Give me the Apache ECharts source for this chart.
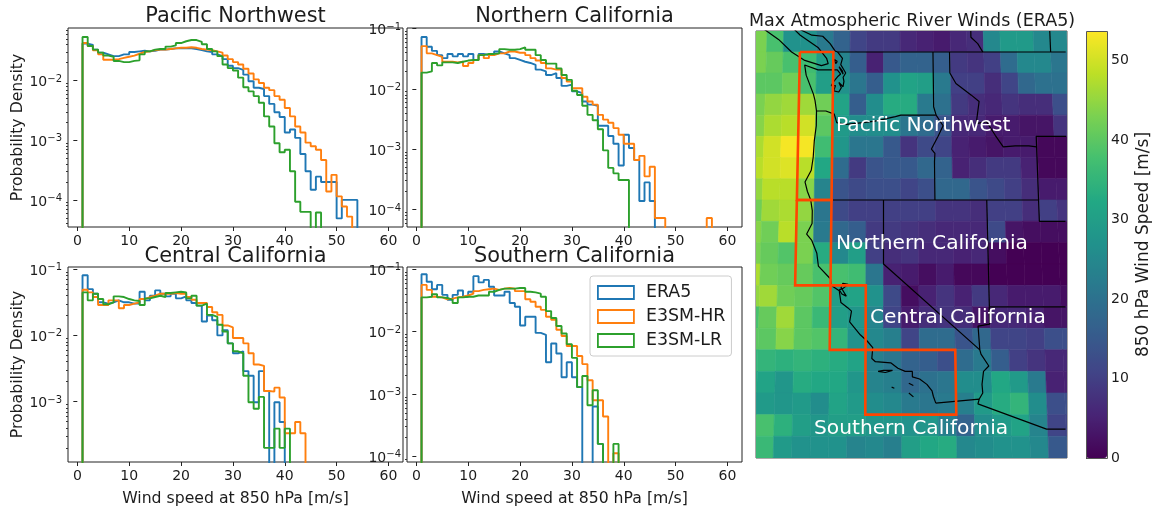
<!DOCTYPE html>
<html><head><meta charset="utf-8"><style>html,body{margin:0;padding:0;background:#fff}#c{width:1153px;height:508px}</style>
<script src="https://cdn.jsdelivr.net/npm/echarts@6/dist/echarts.min.js"></script></head><body><div id="c"></div><script>
const FONT='DejaVu Sans';
const seriesNames=['ERA5','E3SM-HR','E3SM-LR'];
const seriesColors=['#1f77b4','#ff7f0e','#2ca02c'];
const xTicks=[0,10,20,30,40,50,60];
const regionNames=['Pacific Northwest','Northern California','Central California','Southern California'];
// log10(probability density) per 1 m/s bin, first bin starts at 1 m/s; null = empty bin
const pnwEra5=[-1.38,-1.40,-1.48,-1.53,-1.56,-1.59,-1.59,-1.56,-1.56,-1.52,-1.51,-1.50,-1.51,-1.50,-1.48,-1.48,-1.47,-1.46,-1.46,-1.46,-1.46,-1.47,-1.49,-1.51,-1.52,-1.56,-1.59,-1.64,-1.75,-1.79,-1.82,-1.90,-2.01,-2.12,-2.14,-2.26,-2.39,-2.53,-2.61,-2.87,-2.82,-2.96,-3.23,-3.52,-3.83,-3.61,-3.70,-3.70,-3.70,-4.31,-4.0,-4.0,-4.0];
const pnwHr=[-1.37,-1.42,-1.49,-1.56,-1.65,-1.65,-1.64,-1.62,-1.60,-1.58,-1.55,-1.52,-1.51,-1.49,-1.48,-1.48,-1.47,-1.46,-1.45,-1.45,-1.44,-1.45,-1.47,-1.48,-1.49,-1.51,-1.53,-1.58,-1.64,-1.69,-1.73,-1.80,-1.88,-1.98,-2.04,-2.12,-2.16,-2.26,-2.32,-2.46,-2.60,-2.77,-2.87,-3.04,-3.10,-3.16,-3.33,-3.86,-3.58,-3.94,-4.11,-4.28];
const pnwLr=[-1.27,-1.42,-1.48,-1.53,-1.58,-1.60,-1.67,-1.69,-1.69,-1.67,-1.66,-1.56,-1.51,-1.48,-1.47,-1.47,-1.43,-1.41,-1.37,-1.34,-1.32,-1.32,-1.35,-1.39,-1.47,-1.51,-1.59,-1.73,-1.79,-1.83,-1.95,-2.11,-2.18,-2.26,-2.37,-2.60,-2.77,-3.05,-3.20,-3.16,-3.52,-4.03,-4.2,-4.2,null,-4.21];
const norEra5=[-1.14,-1.30,-1.37,-1.44,-1.49,-1.42,-1.46,-1.42,-1.46,-1.42,-1.52,-1.42,-1.44,-1.42,-1.38,-1.41,-1.44,-1.49,-1.52,-1.55,-1.57,-1.60,-1.68,-1.71,-1.77,-1.74,-1.82,-1.95,-1.93,-2.04,-2.07,-2.21,-2.26,-2.28,-2.61,-2.61,-2.78,-2.91,-3.27,-2.76,-2.98,-3.18,-3.86,-3.55,-3.86];
const norHr=[-1.29,-1.41,-1.44,-1.47,-1.55,-1.55,-1.56,-1.55,-1.62,-1.57,-1.52,-1.44,-1.49,-1.44,-1.41,-1.41,-1.38,-1.38,-1.40,-1.40,-1.44,-1.49,-1.53,-1.57,-1.66,-1.68,-1.68,-1.82,-1.88,-1.99,-1.99,-2.13,-2.21,-2.26,-2.43,-2.51,-2.56,-2.65,-2.76,-2.91,-2.91,-3.18,-3.11,-3.45,-3.29,-4.14,-4.14,null,null,null,null,null,null,null,null,-4.14];
const norLr=[-1.73,-1.71,-1.57,-1.61,-1.56,-1.56,-1.57,-1.55,-1.53,-1.52,-1.52,-1.44,-1.42,-1.42,-1.41,-1.34,-1.35,-1.35,-1.34,-1.31,-1.35,-1.35,-1.44,-1.52,-1.58,-1.58,-1.66,-1.77,-1.85,-2.03,-2.10,-2.28,-2.43,-2.52,-2.67,-3.02,-3.31,-3.40,-3.51,-3.51];
const cenEra5=[-1.09,-1.30,-1.37,-1.50,-1.52,-1.50,-1.47,-1.50,-1.50,-1.52,-1.52,-1.34,-1.47,-1.40,-1.32,-1.37,-1.41,-1.37,-1.44,-1.41,-1.47,-1.51,-1.55,-1.79,-1.70,-1.77,-2.0,-1.92,-2.12,-2.27,-2.24,-2.54,-2.61,-3.01,-2.54,-2.84,null,-3.01,-3.31];
const cenHr=[-1.31,-1.35,-1.42,-1.54,-1.54,-1.47,-1.47,-1.59,-1.54,-1.52,-1.50,-1.45,-1.42,-1.40,-1.37,-1.37,-1.37,-1.36,-1.37,-1.37,-1.42,-1.46,-1.51,-1.51,-1.57,-1.65,-1.69,-1.85,-1.88,-2.04,-2.04,-2.12,-2.27,-2.44,-2.46,-2.84,-2.85,-2.79,-2.94,-3.48,-3.48,-3.31,-3.48];
const cenLr=[-1.35,-1.47,-1.37,-1.45,-1.53,-1.50,-1.41,-1.42,-1.45,-1.47,-1.48,-1.54,-1.44,-1.42,-1.40,-1.42,-1.36,-1.35,-1.34,-1.35,-1.44,-1.40,-1.55,-1.52,-1.69,-1.72,-1.84,-1.94,-2.12,-2.24,-2.27,-2.61,-3.01,-3.11,-2.93,-3.70,-3.70,-3.41,-3.70,-3.41];
const socEra5=[-1.08,-1.20,-1.32,-1.25,-1.41,-1.49,-1.41,-1.34,-1.44,-1.36,-1.11,-1.21,-1.17,-1.28,-1.42,-1.42,-1.36,-1.54,-1.60,-1.90,-1.76,-1.76,-2.02,-2.05,-2.49,-2.19,-2.35,-2.73,-2.49,-2.73,-2.89,null,null,-3.20,-3.80];
const socHr=[-1.25,-1.33,-1.44,-1.45,-1.48,-1.47,-1.45,-1.44,-1.42,-1.39,-1.35,-1.33,-1.32,-1.31,-1.33,-1.31,-1.30,-1.31,-1.35,-1.35,-1.48,-1.52,-1.60,-1.65,-1.76,-1.81,-1.97,-2.07,-2.23,-2.23,-2.39,-2.52,-2.78,-3.10,-3.10,-3.36,null,-3.95];
const socLr=[-1.45,-1.44,-1.40,-1.45,-1.46,-1.49,-1.54,-1.45,-1.44,-1.44,-1.42,-1.42,-1.42,-1.36,-1.33,-1.31,-1.31,-1.31,-1.30,-1.30,-1.36,-1.37,-1.39,-1.44,-1.67,-1.78,-1.91,-2.03,-2.20,-2.42,-2.89,-2.71,-3.18,-2.94,-3.80,null,null,-3.80];
const panelData=[[pnwEra5,pnwHr,pnwLr],[norEra5,norHr,norLr],[cenEra5,cenHr,cenLr],[socEra5,socHr,socLr]];
// wind grid, rows north to south (lat 49-50 ... 30-31), columns lon -128 ... -110
const windRows=[
[43,38,27,27,22,17,11,9,9,6,5,4,6,7,25,29,29,25,25],
[43,41,38,37,30,24,16,5,15,17,17,16,9,8,10,19,25,25,21],
[40,40,42,38,30,27,21,16,27,31,30,22,10,10,7,11,18,20,20],
[43,45,46,46,42,31,16,26,33,33,22,20,9,7,6,8,7,7,13],
[44,47,48,50,40,29,26,26,26,21,19,14,6,6,4,4,3,3,8],
[47,50,53,53,37,28,21,21,15,8,12,11,5,4,3,4,4,1,1],
[48,50,51,48,32,19,9,14,15,15,18,17,5,7,9,9,5,1,1],
[45,48,48,44,24,14,12,13,13,11,13,18,18,14,12,10,7,4,4],
[42,46,47,45,21,12,10,10,10,10,10,8,8,7,10,10,7,10,8],
[44,42,48,43,22,18,16,9,9,8,7,6,6,6,12,3,2,2,2],
[43,41,39,43,33,25,30,10,7,8,6,6,5,6,2,0,0,0,0],
[47,42,41,41,38,38,37,21,5,4,2,4,1,1,0,0,0,0,0],
[45,46,42,41,39,30,31,27,12,2,5,8,5,9,6,4,4,4,2],
[38,41,46,40,36,30,28,24,11,4,7,8,7,3,6,6,5,3,3],
[40,40,44,40,39,35,27,25,23,11,19,19,14,18,11,11,10,13,13],
[35,35,34,35,34,33,31,23,21,17,16,13,19,22,16,10,8,6,6],
[33,31,28,33,32,32,28,24,23,18,20,21,26,26,32,29,22,5,5],
[29,29,28,29,26,31,29,26,25,22,21,22,23,29,33,35,26,13,13],
[38,38,34,30,28,30,30,28,28,27,28,23,17,26,29,31,24,11,11],
[36,36,29,27,27,27,24,25,23,30,32,33,25,26,27,27,25,15,15]];
const viridis=['#440154','#482475','#414487','#355f8d','#2a788e','#21918c','#22a884','#44bf70','#7ad151','#bddf26','#fde725'];
const windMax=53.7, colorbarTicks=[0,10,20,30,40,50];
// lon/lat outlines
const coastMain=[[-117.12,32.53],[-117.25,32.85],[-117.32,33.1],[-117.6,33.4],[-118.0,33.65],[-118.4,33.75],[-118.4,34.0],[-118.8,34.0],[-119.2,34.15],[-119.6,34.4],[-120.45,34.45],[-120.65,34.6],[-120.6,35.1],[-120.9,35.4],[-121.3,35.7],[-121.9,36.3],[-121.8,36.8],[-122.0,36.95],[-122.4,37.2],[-122.5,37.75],[-122.95,38.0],[-123.0,38.3],[-123.7,38.9],[-123.8,39.5],[-124.1,40.1],[-124.4,40.4],[-124.1,40.9],[-124.1,41.5],[-124.2,42.0],[-124.4,42.4],[-124.55,42.85],[-124.2,43.4],[-124.1,44.0],[-124.05,44.8],[-123.95,45.5],[-123.95,46.2],[-124.05,46.7],[-124.15,47.0],[-124.6,47.9],[-124.7,48.38],[-123.9,48.15],[-123.1,48.15],[-122.75,48.15],[-122.55,47.95],[-122.7,47.85],[-122.95,47.6],[-123.1,47.4],[-122.85,47.4],[-122.95,47.15],[-122.65,47.1],[-122.5,47.3],[-122.65,47.55],[-122.4,47.35],[-122.35,47.6],[-122.4,47.8],[-122.25,48.0],[-122.4,48.2],[-122.55,48.4],[-122.45,48.7],[-122.75,49.0],[-122.9,49.05],[-123.2,49.4],[-123.65,49.75],[-124.3,49.8],[-125.1,50.1]];
const sfBay=[[-122.5,37.8],[-122.3,37.85],[-122.0,38.05],[-122.3,38.1],[-122.4,37.9],[-122.1,37.5],[-122.35,37.6],[-122.5,37.8]];
const vancouverIsland=[[-127.4,50.2],[-126.3,49.6],[-125.5,49.0],[-124.7,48.6],[-123.7,48.35],[-123.3,48.45],[-123.4,48.7],[-123.9,49.2],[-125.0,49.8],[-125.4,50.1]];
const pugetIslands=[[-122.75,48.55],[-122.95,48.65],[-122.85,48.45],[-122.75,48.55]];
const whidbey=[[-122.65,48.3],[-122.45,48.1],[-122.4,47.95],[-122.55,48.15],[-122.65,48.3]];
const channelA=[[-120.3,34.0],[-120.0,34.05],[-119.5,34.05],[-119.9,33.95],[-120.3,34.0]];
const channelB=[[-119.55,33.27],[-119.4,33.22],[-119.55,33.27]];
const catalina=[[-118.6,33.45],[-118.35,33.35],[-118.6,33.45]];
const clemente=[[-118.6,33.0],[-118.35,32.82],[-118.6,33.0]];
const waCanada=[[-122.75,49],[-109.1,49]];
const waIdaho=[[-117.04,49],[-117.04,46.4],[-116.9,46],[-116.5,45.5],[-116.8,45],[-117.2,44.4],[-117.0,44.2],[-117.03,43.8],[-117.03,42]];
const waOregon=[[-123.95,46.2],[-123.4,46.2],[-122.9,46.05],[-122.75,45.65],[-122.2,45.57],[-121.2,45.65],[-120.5,45.72],[-119.3,45.93],[-118.98,46],[-116.92,46]];
const orCal=[[-124.2,42],[-111.05,42]];
const idahoMontana=[[-116.05,49],[-116.05,48],[-115.7,47.5],[-114.8,46.95],[-114.35,46.65],[-114.55,45.6],[-113.95,45.7],[-113.45,45.05],[-113.0,44.5],[-112.3,44.55],[-111.5,44.55],[-111.05,44.5]];
const wyoming=[[-109.3,45],[-111.05,45],[-111.05,41],[-109.55,41]];
const bcAlberta=[[-114.75,50],[-114.75,49.7],[-114.35,49.4],[-114.06,49]];
const albertaSask=[[-110,50],[-110,49]];
const calNevada=[[-120,42],[-120,39],[-114.63,35]];
const colorado=[[-114.05,37],[-114.05,36.2],[-114.7,36.1],[-114.63,35],[-114.57,34.8],[-114.15,34.25],[-114.45,34.0],[-114.55,33.4],[-114.52,33.0],[-114.72,32.72]];
const nevadaUtah=[[-114.04,42],[-114.04,37]];
const utahArizona=[[-114.04,37],[-109.75,37]];
const mexico=[[-117.12,32.53],[-114.72,32.72],[-114.8,32.5],[-111.07,31.33],[-110.03,31.33]];
const regionBoxes=[
[[-125,49],[-123,49],[-123,42],[-125,42],[-125,49]],
[[-125,42],[-123,42],[-123,38],[-125,38],[-125,42]],
[[-123,38],[-121,38],[-121,35],[-123,35],[-123,38]],
[[-121,35],[-116,35],[-116,32],[-121,32],[-121,35]]];
const outlines=[coastMain,sfBay,vancouverIsland,pugetIslands,whidbey,channelA,channelB,catalina,clemente,waCanada,waIdaho,waOregon,orCal,idahoMontana,wyoming,bcAlberta,albertaSask,calNevada,colorado,nevadaUtah,utahArizona,mexico];

function proj(lon,lat){const d=50-lat;return [(lon+120)*(16.67+(49.5-lat)*0.0874), d*20.975+d*d*0.0188];}
function histPoints(logs){
  const FLOOR=1e-8, pts=[[1,FLOOR]];
  logs.forEach((v,i)=>pts.push([i+1, v===null?FLOOR:Math.pow(10,v)]));
  pts.push([logs.length+1, FLOOR]);
  return pts;
}
const panels=[
 {left:68,top:28,width:335,height:199,min:-4.454,max:-1.118,dec:[-4,-3,-2],yname:true},
 {left:407,top:28,width:335,height:199,min:-4.29,max:-0.99,dec:[-4,-3,-2,-1]},
 {left:68,top:267,width:335,height:199,min:-3.914,max:-0.966,dec:[-3,-2,-1],yname:true,xname:true},
 {left:407,top:267,width:335,height:199,min:-4.09,max:-0.963,dec:[-4,-3,-2,-1],xname:true}];
const grid=[],xAxis=[],yAxis=[],series=[],title=[];
const textCol='#1c1c1c';
panels.forEach((p,i)=>{
  grid.push({left:p.left,top:p.top,width:p.width,height:p.height,show:true,borderColor:'#222',borderWidth:1,backgroundColor:'#fff'});
  xAxis.push({gridIndex:i,type:'value',min:-1.8,max:62.8,splitLine:{show:false},
    axisLine:{show:false,onZero:false},axisTick:{show:true,length:4,customValues:xTicks,lineStyle:{color:'#222'}},
    axisLabel:{fontFamily:FONT,fontSize:14,color:textCol,margin:7,customValues:xTicks},
    name:p.xname?'Wind speed at 850 hPa [m/s]':'',nameLocation:'middle',nameGap:29,nameTextStyle:{fontFamily:FONT,fontSize:15.7,color:textCol}});
  const minor=[];
  for(let e=-6;e<0;e++)for(let m=2;m<10;m++){const l=e+Math.log10(m);if(l>p.min&&l<p.max)minor.push(m*Math.pow(10,e));}
  const major=p.dec.map(e=>Math.pow(10,e));
  const ymin=Math.pow(10,p.min),ymax=Math.pow(10,p.max);
  yAxis.push({gridIndex:i,type:'log',min:ymin,max:ymax,splitLine:{show:false},
    axisLine:{show:false},axisTick:{show:true,length:4,customValues:major,lineStyle:{color:'#222'}},
    axisLabel:{customValues:major,margin:6,padding:[4,0,0,0],formatter:v=>'{b|10}{e|\u2212'+Math.round(-Math.log10(v))+'}',
      rich:{b:{fontFamily:FONT,fontSize:14,color:textCol},e:{fontFamily:FONT,fontSize:10,color:textCol,padding:[0,0,7,0]}}},
    name:p.yname?'Probability Density':'',nameLocation:'middle',nameGap:41,nameTextStyle:{fontFamily:FONT,fontSize:15.7,color:textCol}});
  yAxis.push({gridIndex:i,type:'log',min:ymin,max:ymax,position:'left',splitLine:{show:false},
    axisLine:{show:false},axisTick:{show:true,length:2,customValues:minor,lineStyle:{color:'#333'}},axisLabel:{show:false}});
  panelData[i].forEach((logs,s)=>{
    series.push({name:seriesNames[s],type:'line',xAxisIndex:i,yAxisIndex:i*2,data:histPoints(logs),step:'end',symbol:'none',clip:true,z:3,
      lineStyle:{color:seriesColors[s],width:1.9},itemStyle:{color:seriesColors[s]},emphasis:{disabled:true},animation:false});
  });
  title.push({text:regionNames[i],left:p.left+p.width/2,top:[6,6,246,246][i],textAlign:'center',padding:0,
    textStyle:{fontFamily:FONT,fontSize:20.9,fontWeight:'normal',color:textCol}});
});
title.push({text:'Max Atmospheric River Winds (ERA5)',left:912,top:12,textAlign:'center',padding:0,textStyle:{fontFamily:FONT,fontSize:17.5,fontWeight:'normal',color:textCol}});
// map grid (index 4)
grid.push({left:756,top:31,width:311,height:427,show:true,borderColor:'#555',borderWidth:1});
xAxis.push({gridIndex:4,type:'value',min:-127.5,max:183.5,show:false});
yAxis.push({gridIndex:4,type:'value',min:0,max:427,inverse:true,show:false});
const cells=[];
windRows.forEach((row,r)=>row.forEach((v,c)=>cells.push([-128+c,49-r,v])));
const mapY=yAxis.length-1;
series.push({name:'wind',type:'custom',xAxisIndex:4,yAxisIndex:mapY,clip:true,data:cells,encode:{x:0,y:1},z:1,silent:true,animation:false,
  renderItem:(params,api)=>{
    const lon=api.value(0),lat=api.value(1);
    const pts=[[lon,lat+1],[lon+1,lat+1],[lon+1,lat],[lon,lat]].map(q=>api.coord(proj(q[0],q[1])));
    const col=api.visual('color');
    return {type:'polygon',shape:{points:pts},style:{fill:col,stroke:col,lineWidth:0.6}};
  }});
const windIndex=series.length-1;
outlines.forEach((o,i)=>series.push({name:'outline'+i,type:'line',xAxisIndex:4,yAxisIndex:mapY,data:o.map(q=>proj(q[0],q[1])),symbol:'none',clip:true,z:4,silent:true,animation:false,
  lineStyle:{color:'#000',width:1.2}}));
regionBoxes.forEach((o,i)=>series.push({name:'box'+i,type:'line',xAxisIndex:4,yAxisIndex:mapY,data:o.map(q=>proj(q[0],q[1])),symbol:'none',clip:true,z:5,silent:true,animation:false,
  lineStyle:{color:'#ff4500',width:2.6,join:'miter'}}));
// colorbar axis (grid 5)
grid.push({left:1086,top:31,width:21,height:427,show:false});
xAxis.push({gridIndex:5,type:'value',min:0,max:1,show:false});
yAxis.push({gridIndex:5,type:'value',min:0,max:windMax,position:'right',splitLine:{show:false},axisLine:{show:false},
  axisTick:{show:true,length:4,customValues:colorbarTicks,lineStyle:{color:'#222'}},
  axisLabel:{customValues:colorbarTicks,fontFamily:FONT,fontSize:14,color:textCol,margin:6,padding:[2,0,0,0]},
  name:'850 hPa Wind Speed [m/s]',nameLocation:'middle',nameRotate:90,nameGap:30,nameTextStyle:{fontFamily:FONT,fontSize:17,color:textCol}});
const textLabels=[[regionNames[0],836,116],[regionNames[1],836,234],[regionNames[2],870,308],[regionNames[3],814,419]];
const chart=echarts.init(document.getElementById('c'),null,{renderer:'canvas'});
chart.setOption({animation:false,backgroundColor:'#fff',textStyle:{fontFamily:FONT},title,grid,xAxis,yAxis,series,
  legend:{orient:'vertical',left:590,top:276,padding:[8,6,7,7],itemGap:7,itemWidth:36,itemHeight:13,borderColor:'#ccc',borderWidth:1,borderRadius:3,backgroundColor:'#fff',z:10,selectedMode:false,
    icon:'rect',textStyle:{fontFamily:FONT,fontSize:17.4,color:textCol,padding:[0,0,0,7]},
    data:seriesNames.map((n,i)=>({name:n,icon:'rect',itemStyle:{color:'rgba(0,0,0,0)',borderColor:seriesColors[i],borderWidth:1.8}}))},
  visualMap:{type:'continuous',seriesIndex:windIndex,dimension:2,min:0,max:windMax,inRange:{color:viridis},left:1086,top:31,itemWidth:21,itemHeight:427,padding:0,text:null,showLabel:false,calculable:false,hoverLink:false,indicatorSize:0,indicatorIcon:'none'},
  graphic:textLabels.map(t=>({type:'text',left:t[1],top:t[2],z:100,style:{text:t[0],fill:'#fff',font:'20.2px "DejaVu Sans"'}}))
    .concat([{type:'rect',z:100,silent:true,shape:{x:1086.5,y:31.5,width:21,height:427},style:{fill:'rgba(0,0,0,0)',stroke:'#555',lineWidth:1}}])
});
</script></body></html>
